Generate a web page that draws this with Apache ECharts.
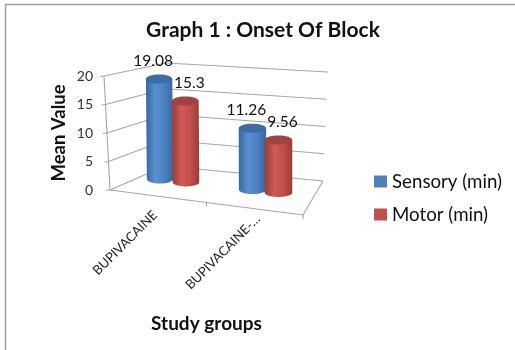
<!DOCTYPE html>
<html><head><meta charset="utf-8">
<style>html,body{margin:0;padding:0;background:#fff}#c{width:515px;height:350px}</style>
<script src="https://cdn.jsdelivr.net/npm/echarts@6/dist/echarts.min.js"></script>
</head><body><div id="c"></div>
<script>
const categories = ['BUPIVACAINE', 'BUPIVACAINE-…'];
const sensory = [19.08, 11.26];
const motor = [15.3, 9.56];
const yTicks = [0, 5, 10, 15, 20];
const FONT = 'Lato';

// Perspective box of the 3D plot: u along categories, w in depth, t up the value axis
const box = {
  flb:[110,190], frb:[303,215], blb:[165,166], brb:[323,181],
  flt:[104,76],  frt:[298,103], blt:[166,63],  brt:[328,72]
};
function lerp(a,b,k){return [a[0]+(b[0]-a[0])*k, a[1]+(b[1]-a[1])*k];}
function wall(u,w,t){
  const fb=lerp(box.flb,box.frb,u), bb=lerp(box.blb,box.brb,u);
  const ft=lerp(box.flt,box.frt,u), bt=lerp(box.blt,box.brt,u);
  return lerp(lerp(fb,bb,w),lerp(ft,bt,w),t);
}
// Plane in which the cylinders stand
const row = {lb:[126.75,175.25], rb:[311.75,196.25], lt:[125.5,71.85], rt:[312,84.85]};
function rowPt(u,t){return lerp(lerp(row.lb,row.rb,u),lerp(row.lt,row.rt,u),t);}
// Line on which the rotated category labels end
const labelEnds = {l:[103.5,211], r:[309.5,219]};
function norm(api,cs,c,v){
  const p=api.coord([c,v]);
  return [(p[0]-cs.x)/cs.width, 1-(p[1]-cs.y)/cs.height];
}
const LINE='#a6a6a6';
function seg(a,b){return {type:'line',silent:true,shape:{x1:a[0],y1:a[1],x2:b[0],y2:b[1]},style:{stroke:LINE,lineWidth:1.1}};}

function renderGuide(params,api){
  const cs=params.coordSys;
  const t=norm(api,cs,0,api.value(1))[1];
  const a=wall(0,0,t), b=wall(0,1,t), c=wall(1,1,t);
  const ch=[seg(a,b),seg(b,c),seg([a[0]-4,a[1]+0.5],a)];
  if(t===0){
    ch.push(seg(wall(0,0,0),wall(1,0,0)), seg(wall(1,0,0),wall(1,1,0)), seg(wall(0,0,0),wall(0,0,1)));
    [0.5,1].forEach(u=>{const p=wall(u,0,0);ch.push(seg(p,[p[0],p[1]+4]));});
  }
  return {type:'group',children:ch};
}
function renderCatLabel(params,api){
  const cs=params.coordSys;
  const u=norm(api,cs,api.value(0),0)[0];
  const p=lerp(labelEnds.l,labelEnds.r,u);
  return {type:'text',x:p[0],y:p[1],rotation:Math.PI/4,
    style:{text:categories[api.value(0)],align:'right',verticalAlign:'middle',fontFamily:FONT,fontSize:13,fill:'#222'}};
}
function cylinder(pal,du,dx){
  return function(params,api){
    const cs=params.coordSys, cat=api.value(0), val=api.value(1);
    const n=norm(api,cs,cat,val), u=n[0]+du;
    const base=rowPt(u,0), top=rowPt(u,n[1]);
    const rx=13+u, ry=4.5;
    const pts=[];
    pts.push([top[0]-rx,top[1]]);
    for(let i=0;i<=24;i++){
      const a=Math.PI-Math.PI*i/24;
      pts.push([base[0]+rx*Math.cos(a),base[1]+ry*Math.sin(a)]);
    }
    pts.push([top[0]+rx,top[1]]);
    const grad={type:'linear',x:0,y:0,x2:1,y2:0,colorStops:[
      {offset:0,color:pal[0]},{offset:0.35,color:pal[1]},{offset:0.7,color:pal[2]},{offset:1,color:pal[0]}]};
    return {type:'group',children:[
      {type:'polygon',shape:{points:pts},style:{fill:grad}},
      {type:'ellipse',shape:{cx:top[0],cy:top[1],rx:rx,ry:ry},style:{fill:pal[3]}},
      {type:'text',x:top[0]+dx,y:top[1]-18,style:{text:String(val),align:'center',verticalAlign:'middle',fontFamily:FONT,fontSize:15.5,fill:'#111'}}
    ]};
  };
}
const chart=echarts.init(document.getElementById('c'),null,{renderer:'canvas'});
chart.setOption({
  animation:false,
  backgroundColor:'#fff',
  title:{text:'Graph 1 : Onset Of Block',left:258,top:15,textAlign:'center',
    textStyle:{fontFamily:FONT,fontWeight:'bold',fontSize:21,color:'#111'}},
  legend:{orient:'vertical',left:369,top:167,itemWidth:13,itemHeight:12,itemGap:14,icon:'rect',
    data:['Sensory (min)','Motor (min)'],
    textStyle:{fontFamily:FONT,fontSize:18.7,color:'#111'}},
  grid:{left:110,top:76,width:193,height:114},
  xAxis:{type:'category',data:categories,
    axisLine:{show:false},axisTick:{show:false},axisLabel:{show:false},splitLine:{show:false},
    name:'Study groups',nameLocation:'middle',nameGap:124,
    nameTextStyle:{fontFamily:FONT,fontWeight:'bold',fontSize:19,color:'#111'}},
  yAxis:{type:'value',min:0,max:20,interval:5,
    axisLine:{show:false},axisTick:{show:false},splitLine:{show:false},
    axisLabel:{margin:17,fontFamily:FONT,fontSize:14,color:'#333'},
    name:'Mean Value',nameLocation:'middle',nameGap:41,
    nameTextStyle:{fontFamily:FONT,fontWeight:'bold',fontSize:18.5,color:'#111'}},
  graphic:[{type:'polyline',silent:true,shape:{points:[[5.5,350],[5.5,4.5],[515,4.5]]},style:{stroke:'#a0a0a0',lineWidth:1.5,fill:null}}],
  series:[
    {type:'custom',name:'guide',silent:true,z:1,encode:{x:0,y:1},
     data:yTicks.map(t=>[0,t]),renderItem:renderGuide},
    {type:'custom',name:'catLabels',silent:true,z:1,encode:{x:0,y:1},
     data:categories.map((c,i)=>[i,0]),renderItem:renderCatLabel},
    {type:'custom',name:'Sensory (min)',z:2,itemStyle:{color:'#4f81bd'},encode:{x:0,y:1},
     data:sensory.map((v,i)=>[i,v]),renderItem:cylinder(['#3a679f','#5a90d2','#4a7fc0','#3d6ba6'],-0.07,-6)},
    {type:'custom',name:'Motor (min)',z:3,itemStyle:{color:'#c0504d'},encode:{x:0,y:1},
     data:motor.map((v,i)=>[i,v]),renderItem:cylinder(['#9a3b39','#d05a57','#c04e4b','#a04240'],0.07,4)}
  ]
});
</script></body></html>
